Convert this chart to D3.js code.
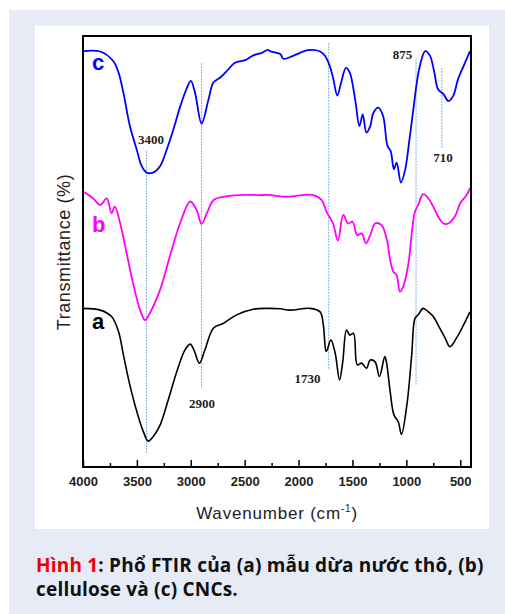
<!DOCTYPE html>
<html>
<head>
<meta charset="utf-8">
<script src="https://cdn.jsdelivr.net/npm/d3@7"></script>
<style>
  body { margin: 0; background: #fff; }
  svg { display: block; }
</style>
</head>
<body>
<svg id="dessin" width="505" height="614"></svg>
<script>
// donnees (nombre d'onde en cm-1, transmittance en unite arbitraire)
const waveA = [4000,3840,3735,3670,3625,3565,3500,3440,3395,3350,3285,3210,3130,3055,3005,2970,2920,2870,2790,2700,2575,2420,2295,2170,2080,1895,1800,1770,1745,1735,1700,1660,1620,1590,1555,1525,1490,1455,1415,1370,1335,1290,1250,1200,1185,1150,1115,1075,1045,995,950,920,890,845,795,750,690,640,595,535,470,410];
const transA = [36.8,36.4,34.9,31.4,26.0,19.0,12.8,8.2,6.0,7.0,9.7,15.5,22.1,27.1,28.5,27.1,24.1,27.1,32.2,33.3,35.3,36.6,36.8,36.7,36.4,36.8,36.0,32.9,26.8,27.1,29.5,26.4,20.2,24.4,31.8,30.6,31.0,23.7,24.1,22.9,24.8,24.4,21.0,25.6,24.4,17.5,12.1,10.5,7.6,14.4,26.0,34.5,35.3,36.8,36.0,34.9,32.2,29.9,27.9,29.9,32.9,36.0];

const waveB = [4000,3905,3840,3780,3735,3705,3655,3595,3535,3470,3425,3380,3285,3195,3100,3005,2945,2900,2850,2790,2700,2545,2360,2265,2110,1865,1785,1740,1680,1635,1585,1540,1500,1455,1415,1375,1335,1290,1230,1180,1150,1120,1090,1060,1030,980,950,920,890,845,795,750,705,655,610,550,500,440,410];
const transB = [63.9,62.3,60.8,62.3,58.9,60.4,56.5,49.6,42.6,36.4,34.1,35.7,41.1,48.8,56.5,61.6,59.6,56.4,58.9,61.9,62.7,63.1,63.1,63.1,62.7,63.1,61.9,59.2,56.5,52.5,58.5,56.5,56.9,53.8,54.2,51.9,53.8,56.5,56.1,52.7,48.0,45.3,44.5,40.7,41.8,47.3,54.2,59.2,60.8,63.3,62.3,60.4,58.1,56.5,56.5,58.1,61.2,63.1,64.7];

const waveC = [4000,3840,3720,3670,3625,3565,3500,3455,3410,3350,3285,3225,3160,3100,3040,3000,2960,2900,2835,2790,2730,2665,2590,2495,2420,2340,2285,2265,2170,2140,2050,1910,1800,1755,1710,1680,1640,1605,1560,1525,1475,1435,1405,1370,1335,1305,1260,1215,1175,1145,1115,1090,1050,1010,975,935,905,875,825,780,740,705,655,610,565,520,455,410];
const transC = [96.5,96.4,94.2,91.5,86.8,79.1,73.5,69.8,68.3,68.3,69.8,73.5,78.4,83.5,87.7,89.6,86.8,79.7,85.3,89.2,90.3,91.9,93.8,94.4,95.5,96.1,96.8,96.5,95.8,94.7,95.4,96.7,96.4,95.4,93.0,90.3,86.2,89.2,92.6,91.5,85.3,79.1,81.8,77.6,79.1,82.2,83.4,81.4,74.5,73.3,69.1,70.6,66.0,69.1,75.2,83.0,88.8,93.0,96.5,95.4,91.5,87.6,86.5,84.9,86.1,90.0,93.8,96.5];

// lignes verticales des pics
const peakWave = [3410, 2900, 1720, 910, 670];
const peakTop = [73.3, 93.7, 98.4, 94.7, 92.6];
const peakBottom = [3.2, 18.3, 22.7, 19.0, 73.8];
const peakLabels = ["3400", "2900", "1730", "875", "710"];
const labelWave = [3370, 2896, 1917, 1036, 660];
const labelTrans = [74.9, 13.7, 19.5, 94.7, 70.8];

// graduations de l'axe x
const majorTicks = [4000, 3500, 3000, 2500, 2000, 1500, 1000, 500];
const minorTicks = [3750, 3250, 2750, 2250, 1750, 1250, 750];

const svg = d3.select("#dessin");

// fond de la figure
svg.append("rect").attr("x", 9).attr("y", 10).attr("width", 496).attr("height", 604).attr("fill", "#e7ebf6");
svg.append("rect").attr("x", 35).attr("y", 26).attr("width", 454).attr("height", 503).attr("fill", "#fff");

const plotLeft = 83, plotRight = 471, plotTop = 36, plotBottom = 467;

const x = d3.scaleLinear().domain([4000, 400]).range([plotLeft, plotRight]);
const y = d3.scaleLinear().domain([0, 100]).range([plotBottom, plotTop]);

// lignes pointillees bleues
peakWave.forEach((w, i) => {
    svg.append("line")
        .attr("x1", x(w)).attr("x2", x(w))
        .attr("y1", y(peakTop[i])).attr("y2", y(peakBottom[i]))
        .style("stroke", "#7fb0e0")
        .style("stroke-width", 1)
        .style("stroke-dasharray", "2,1");
});

// courbes
const line = d3.line()
    .x(d => x(d[0]))
    .y(d => y(d[1]))
    .curve(d3.curveCatmullRom.alpha(0.5));

const series = [
    { w: waveA, t: transA, color: "#000000", width: 1.6 },
    { w: waveB, t: transB, color: "#ff00ff", width: 1.8 },
    { w: waveC, t: transC, color: "#0000ff", width: 1.8 }
];

series.forEach(s => {
    svg.append("path")
        .datum(s.w.map((w, i) => [w, s.t[i]]))
        .attr("d", line)
        .style("fill", "none")
        .style("stroke", s.color)
        .style("stroke-width", s.width)
        .style("stroke-linejoin", "round");
});

// etiquettes des pics
peakLabels.forEach((lab, i) => {
    svg.append("text")
        .attr("x", x(labelWave[i]))
        .attr("y", y(labelTrans[i]))
        .attr("text-anchor", "middle")
        .style("font-family", "'Liberation Serif', 'Times New Roman', serif")
        .style("font-weight", "bold")
        .style("font-size", "13px")
        .style("fill", "#222")
        .text(lab);
});

// lettres a, b, c
const letters = [["a", 32.0, "#000"], ["b", 54.5, "#ff00ff"], ["c", 92.1, "#0000ff"]];
letters.forEach(l => {
    svg.append("text")
        .attr("x", x(3917))
        .attr("y", y(l[1]))
        .style("font-family", "'Liberation Sans', Arial, sans-serif")
        .style("font-weight", "bold")
        .style("font-size", "22px")
        .style("fill", l[2])
        .text(l[0]);
});

// axe x : petites graduations puis grandes
const gMinor = svg.append("g").attr("transform", `translate(0,${plotBottom})`)
    .call(d3.axisBottom(x).tickValues(minorTicks).tickSizeInner(-4).tickSizeOuter(0).tickFormat(""));
const gMajor = svg.append("g").attr("transform", `translate(0,${plotBottom})`)
    .call(d3.axisBottom(x).tickValues(majorTicks).tickSizeInner(-7).tickSizeOuter(0).tickPadding(10).tickFormat(d3.format("d")));

[gMinor, gMajor].forEach(g => {
    g.select(".domain").remove();
    g.selectAll(".tick line").style("stroke", "#000").style("stroke-width", 1.5);
});
gMajor.selectAll(".tick text")
    .style("font-family", "'Liberation Sans', Arial, sans-serif")
    .style("font-weight", "bold")
    .style("font-size", "13px")
    .style("fill", "#222");

// cadre
svg.append("rect")
    .attr("x", plotLeft).attr("y", plotTop)
    .attr("width", plotRight - plotLeft).attr("height", plotBottom - plotTop)
    .style("fill", "none")
    .style("stroke", "#000")
    .style("stroke-width", 2);

// titres des axes
const xt = svg.append("text")
    .attr("x", (plotLeft + plotRight) / 2)
    .attr("y", 519)
    .attr("text-anchor", "middle")
    .style("font-family", "'Liberation Sans', Arial, sans-serif")
    .style("font-size", "17px")
    .style("letter-spacing", "0.8px")
    .style("fill", "#222");
xt.append("tspan").text("Wavenumber (cm");
xt.append("tspan").attr("dy", -7).style("font-size", "10px").text("-1");
xt.append("tspan").attr("dy", 7).text(")");

svg.append("text")
    .attr("transform", "translate(70,252) rotate(-90)")
    .attr("text-anchor", "middle")
    .style("font-family", "'Liberation Sans', Arial, sans-serif")
    .style("font-size", "18px")
    .style("letter-spacing", "0.6px")
    .style("fill", "#222")
    .text("Transmittance (%)");

// legende de la figure
const cap1 = svg.append("text")
    .attr("x", 36).attr("y", 572)
    .style("font-family", "'Open Sans', sans-serif")
    .style("font-weight", "bold")
    .style("font-size", "19px")
    .style("letter-spacing", "0.2px")
    .style("fill", "#111");
cap1.append("tspan").style("fill", "#ee0000").text("Hình 1");
cap1.append("tspan").text(":  Phổ FTIR của (a) mẫu dừa nước thô, (b)");

svg.append("text")
    .attr("x", 36).attr("y", 596)
    .style("font-family", "'Open Sans', sans-serif")
    .style("font-weight", "bold")
    .style("font-size", "19px")
    .style("letter-spacing", "0.2px")
    .style("fill", "#111")
    .text("cellulose và (c) CNCs.");
</script>
</body>
</html>
